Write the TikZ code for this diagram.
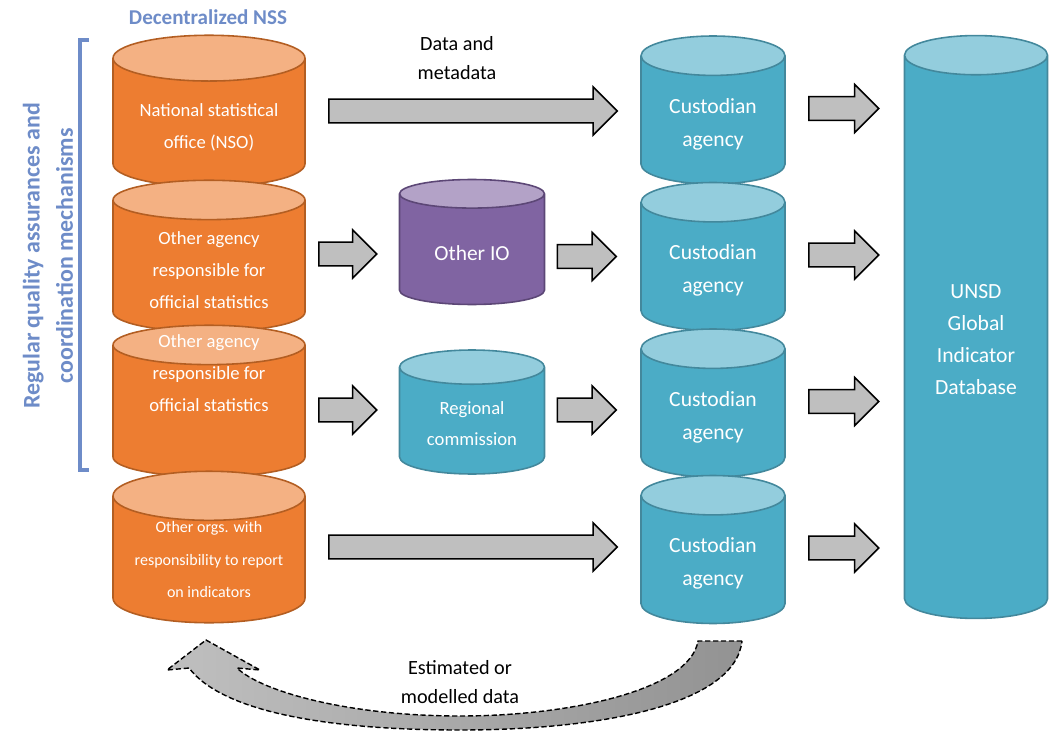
\documentclass[tikz,border=0pt]{standalone}
\usepackage{fontspec}
\setmainfont{Carlito}
\usetikzlibrary{shapes.geometric, calc}

\definecolor{nssorange}{HTML}{ED7D31}
\definecolor{nsstop}{HTML}{F4B183}
\definecolor{nssline}{HTML}{B35E22}
\definecolor{custblue}{HTML}{4BACC6}
\definecolor{custtop}{HTML}{93CDDD}
\definecolor{custline}{HTML}{43889C}
\definecolor{iopurple}{HTML}{8064A2}
\definecolor{iotop}{HTML}{B3A2C7}
\definecolor{ioline}{HTML}{5C4776}
\definecolor{headblue}{HTML}{6E8CC8}
\definecolor{arrowgray}{HTML}{BFBFBF}

% push the text a little lower / lift one line without changing the box
\newcommand{\lift}[1]{\rule{0pt}{#1}}
\newcommand{\up}[1]{\raisebox{18.3pt}[0pt][0pt]{#1}}

% block arrow between two points
\newcommand{\blockarrow}[2]{%
  \draw[arrowbox] let \p1=(#1), \p2=(#2) in
    (\x1,{\y1+6.8pt}) -- ({\x2-13.7pt},{\y1+6.8pt}) -- ({\x2-13.7pt},{\y1+13.7pt}) -- (\x2,\y1)
    -- ({\x2-13.7pt},{\y1-13.7pt}) -- ({\x2-13.7pt},{\y1-6.8pt}) -- (\x1,{\y1-6.8pt}) -- cycle;}

\begin{document}
\begin{tikzpicture}[x=0.02cm, y=-0.02cm]
\tikzset{
  store/.style={cylinder, shape border rotate=90, draw, line width=0.9pt, cylinder uses custom fill, text=white, align=center, inner sep=0pt, anchor=shape center},
  nssstore/.style={store, draw=nssline, cylinder body fill=nssorange, cylinder end fill=nsstop, minimum width=3.84cm, minimum height=3.03cm, aspect=0.33, font=\fontsize{10.6}{18.2}\selectfont},
  custstore/.style={store, draw=custline, cylinder body fill=custblue, cylinder end fill=custtop, minimum width=2.88cm, minimum height=2.96cm, aspect=0.45, font=\fontsize{12.3}{18.8}\selectfont},
  iostore/.style={store, draw=ioline, cylinder body fill=iopurple, cylinder end fill=iotop, minimum width=2.9cm, minimum height=2.5cm, aspect=0.38, font=\fontsize{12.2}{18.8}\selectfont},
  regstore/.style={store, draw=custline, cylinder body fill=custblue, cylinder end fill=custtop, minimum width=2.9cm, minimum height=2.48cm, aspect=0.38, font=\fontsize{10.6}{17.6}\selectfont},
  dbstore/.style={store, draw=custline, cylinder body fill=custblue, cylinder end fill=custtop, minimum width=2.86cm, minimum height=11.66cm, aspect=0.48, font=\fontsize{12.3}{18.2}\selectfont},
  arrowbox/.style={draw=black, line width=0.85pt, fill=arrowgray},
  flowlabel/.style={align=center, font=\fontsize{11.5}{17}\selectfont},
  bluehead/.style={text=headblue, align=center, font=\bfseries\fontsize{12}{19}\selectfont},
  estarrow/.style={draw=black, line width=0.8pt, dash pattern=on 3pt off 1.5pt, shading=axis, left color=gray!50, right color=gray!85}
}
\useasboundingbox (0,0) rectangle (1051,733);

% Decentralized NSS column
\node (nso) [nssstore] at (209,111) {\lift{12pt}National statistical\\office (NSO)};
\node (oth1) [nssstore] at ($(nso.shape center)+(0,145)$) {\lift{12pt}Other agency\\responsible for\\official statistics};
\node (oth2) [nssstore] at ($(oth1.shape center)+(0,145)$) {\up{Other agency}\\\up{responsible for}\\\up{official statistics}};
\node (orgs) [nssstore, font=\fontsize{9.1}{18.5}\selectfont] at ($(oth2.shape center)+(0,146)$) {Other orgs. with\\responsibility to report\\on indicators};

% Intermediate bodies
\node (io) [iostore] at (472,242) {\lift{13pt}Other IO};
\node (reg) [regstore] at (472,412) {\lift{10.8pt}Regional\\commission};

% Custodian column
\node (cus1) [custstore] at (713,110) {\lift{13pt}Custodian\\agency};
\node (cus2) [custstore] at ($(cus1.shape center)+(0,146.5)$) {\lift{13pt}Custodian\\agency};
\node (cus3) [custstore] at ($(cus2.shape center)+(0,146.5)$) {\lift{13pt}Custodian\\agency};
\node (cus4) [custstore] at ($(cus3.shape center)+(0,146.5)$) {\lift{13pt}Custodian\\agency};

% Global database
\node (unsd) [dbstore] at (976,327) {\lift{10.8pt}UNSD\\Global\\Indicator\\Database};

% Titles and labels
\node (nsshead) [bluehead] at (208,17) {Decentralized NSS};
\node (qa) [bluehead, rotate=90, font=\bfseries\fontsize{13.6}{19}\selectfont] at (48,256) {Regular quality assurances and\\coordination mechanisms};
\node (datalbl) [flowlabel] at (457,58) {Data and\\metadata};
\node (estlbl) [flowlabel] at (460,682) {Estimated or\\modelled data};

% Bracket for the NSS
\draw[headblue, line width=2pt] (89,40) -- (80,40) -- (80,470) -- (89,470);

% Block arrows
\blockarrow{$(nso.shape center -| nso.0)+(23,0)$}{$(cus1.180)+(-23,0)$}
\blockarrow{$(oth1.shape center -| oth1.0)+(13,-2)$}{$(io.180)+(-22,0)$}
\blockarrow{$(io.0 |- cus2.shape center)+(12,0)$}{$(cus2.180)+(-24,0)$}
\blockarrow{$(oth2.0 |- reg.shape center)+(13,-2)$}{$(reg.180)+(-22,0)$}
\blockarrow{$(reg.shape center -| reg.0)+(12,-2)$}{$(cus3.180)+(-24,0)$}
\blockarrow{$(orgs.shape center -| orgs.0)+(23,0)$}{$(cus4.180)+(-23,0)$}
\foreach \c in {cus1,cus2,cus3,cus4}{
  \blockarrow{$(\c.shape center -| \c.0)+(23,-1.5)$}{$(unsd.180)+(-25,0)$}
}

% Estimated data going back
\draw[estarrow] (742,641) -- (698,641) .. controls (690,690) and (570,716) .. (460,716)
  .. controls (350,716) and (262,692) .. (237,668) -- (260,670) -- (206,640) -- (167,670) -- (189,668)
  .. controls (225,715) and (340,730) .. (460,730) .. controls (600,730) and (735,705) .. (742,641) -- cycle;

\end{tikzpicture}
\end{document}
